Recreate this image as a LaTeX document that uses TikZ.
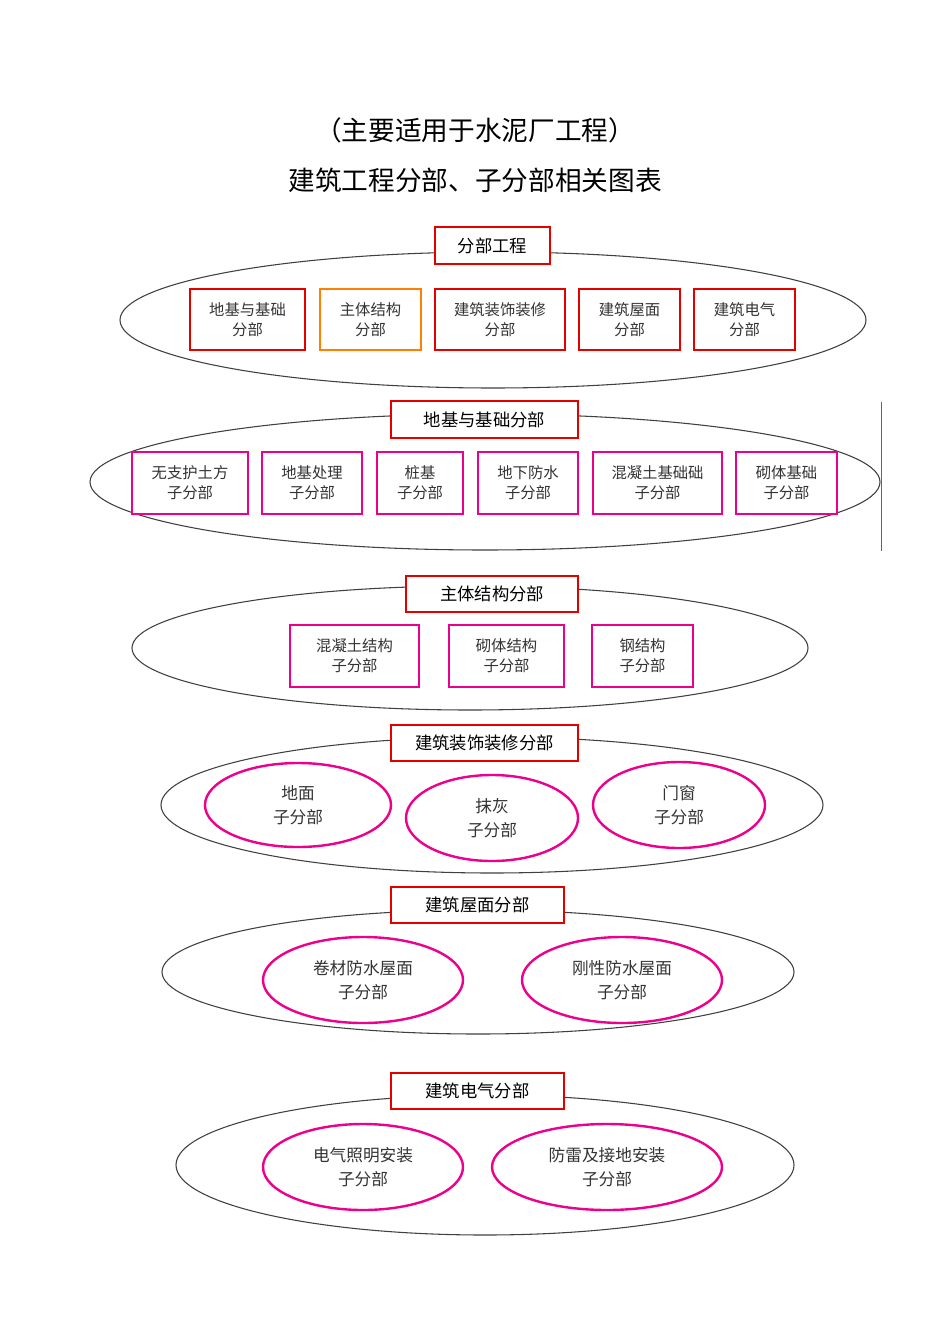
\documentclass[tikz,border=0pt]{standalone}
\usepackage{fontspec}
\setmainfont{Noto Sans CJK SC}
\usetikzlibrary{shapes.geometric}
\newcommand{\mybox}[7]{%
  \pgfmathsetmacro{\cx}{(#2+#4)/2}\pgfmathsetmacro{\cy}{(#3+#5)/2}%
  \pgfmathsetmacro{\ww}{(#4-#2)*0.75}\pgfmathsetmacro{\hh}{(#5-#3)*0.75}%
  \node[draw=#6,line width=1.8pt,fill=white,minimum width=\ww pt,minimum height=\hh pt,inner sep=0pt,align=center,font=\fontsize{11.5}{15}\selectfont,text=black!80] (#1) at (\cx,\cy) {#7};}
\newcommand{\myell}[6]{%
  \node[ellipse,draw=magenta,line width=1.8pt,minimum width=#4*1.5pt,minimum height=#5*1.5pt,inner sep=0pt,align=center,font=\fontsize{12.5}{18}\selectfont,text=black!80] (#1) at (#2,#3) {#6};}
\newcommand{\bigell}[5]{%
  \node[ellipse,draw=black!75,line width=0.8pt,minimum width=#4*1.5pt,minimum height=#5*1.5pt,inner sep=0pt] (#1) at (#2,#3) {};}
\newcommand{\ttl}[6]{%
  \pgfmathsetmacro{\cx}{(#2+#4)/2}\pgfmathsetmacro{\cy}{(#3+#5)/2}%
  \pgfmathsetmacro{\ww}{(#4-#2)*0.75}\pgfmathsetmacro{\hh}{(#5-#3)*0.75}%
  \node[draw=red!90!black,line width=1.5pt,fill=white,minimum width=\ww pt,minimum height=\hh pt,inner sep=0pt,font=\fontsize{13}{15}\selectfont] (#1) at (\cx,\cy) {#6};}
\begin{document}
\begin{tikzpicture}[x=0.75pt,y=-0.75pt]
\useasboundingbox[fill=white] (0,0) rectangle (950,1344);
\node[font=\fontsize{20}{24}\selectfont] (t1) at (475,130) {（主要适用于水泥厂工程）};
\node[font=\fontsize{20}{24}\selectfont] (t2) at (475,180) {建筑工程分部、子分部相关图表};
\bigell{e1}{493}{320}{373}{68}
\bigell{e2}{485}{482}{395}{68}
\bigell{e3}{470}{648}{338}{62}
\bigell{e4}{492}{805}{331}{68}
\bigell{e5}{478}{972}{316}{62}
\bigell{e6}{485}{1165}{309}{70}
\draw[black!60,line width=0.6pt] (881,402) -- (881,551);
\ttl{h1}{435}{227}{550}{264}{分部工程}
\ttl{h2}{391}{401}{578}{438}{地基与基础分部}
\ttl{h3}{406}{576}{578}{612}{主体结构分部}
\ttl{h4}{391}{725}{578}{761}{建筑装饰装修分部}
\ttl{h5}{391}{887}{564}{923}{建筑屋面分部}
\ttl{h6}{391}{1073}{564}{1109}{建筑电气分部}
\mybox{a1}{190}{289}{305}{350}{red!90!black}{地基与基础\\分部}
\mybox{a2}{320}{289}{421}{350}{orange}{主体结构\\分部}
\mybox{a3}{435}{289}{565}{350}{red!90!black}{建筑装饰装修\\分部}
\mybox{a4}{579}{289}{680}{350}{red!90!black}{建筑屋面\\分部}
\mybox{a5}{694}{289}{795}{350}{red!90!black}{建筑电气\\分部}
\mybox{b1}{132}{452}{248}{514}{magenta}{无支护土方\\子分部}
\mybox{b2}{262}{452}{362}{514}{magenta}{地基处理\\子分部}
\mybox{b3}{377}{452}{463}{514}{magenta}{桩基\\子分部}
\mybox{b4}{478}{452}{578}{514}{magenta}{地下防水\\子分部}
\mybox{b5}{593}{452}{722}{514}{magenta}{混凝土基础础\\子分部}
\mybox{b6}{736}{452}{837}{514}{magenta}{砌体基础\\子分部}
\mybox{c1}{290}{625}{419}{687}{magenta}{混凝土结构\\子分部}
\mybox{c2}{449}{625}{564}{687}{magenta}{砌体结构\\子分部}
\mybox{c3}{592}{625}{693}{687}{magenta}{钢结构\\子分部}
\myell{d1}{298}{805}{93}{42}{地面\\子分部}
\myell{d2}{492}{818}{86}{43}{抹灰\\子分部}
\myell{d3}{679}{805}{86}{43}{门窗\\子分部}
\myell{f1}{363}{980}{100}{43}{卷材防水屋面\\子分部}
\myell{f2}{622}{980}{100}{43}{刚性防水屋面\\子分部}
\myell{g1}{363}{1167}{100}{43}{电气照明安装\\子分部}
\myell{g2}{607}{1167}{115}{43}{防雷及接地安装\\子分部}
\end{tikzpicture}
\end{document}
